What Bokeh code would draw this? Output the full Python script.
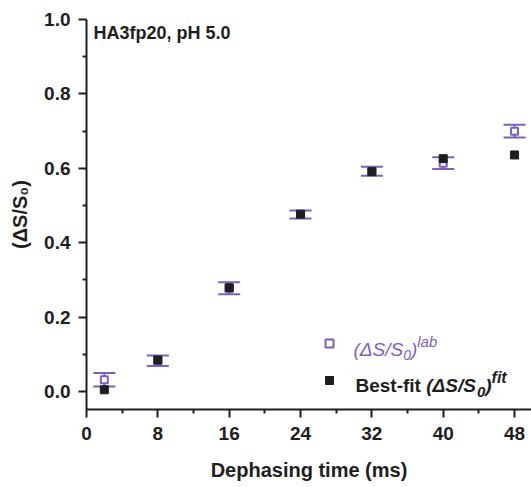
import math
from bokeh.plotting import figure
from bokeh.models import (ColumnDataSource, Whisker, TeeHead, FixedTicker, Label,
                          Legend, LegendItem, CustomJSTickFormatter)
from bokeh.embed import file_html
from bokeh.resources import INLINE

# ---- data ----
times = [2, 8, 16, 24, 32, 40, 48]
lab_vals = [0.032, 0.083, 0.278, 0.476, 0.592, 0.614, 0.700]
lab_errs = [0.018, 0.014, 0.016, 0.011, 0.012, 0.016, 0.017]
fit_vals = [0.005, 0.085, 0.279, 0.477, 0.591, 0.626, 0.636]

x_major = [0, 8, 16, 24, 32, 40, 48]
x_minor = [4, 12, 20, 28, 36, 44]
y_major = [0.0, 0.2, 0.4, 0.6, 0.8, 1.0]
y_minor = [0.1, 0.3, 0.5, 0.7, 0.9]

title_text = "HA3fp20, pH 5.0"
x_title = "Dephasing time (ms)"
y_title = "(ΔS/S\u2080)"

PURPLE = "#7d5fc1"
INK = "#1e1e1e"
FONT = "Liberation Sans"

src = ColumnDataSource(dict(
    t=times, lab=lab_vals, fit=fit_vals,
    upper=[v + e for v, e in zip(lab_vals, lab_errs)],
    lower=[v - e for v, e in zip(lab_vals, lab_errs)],
))

p = figure(width=531, height=487, output_backend="svg", toolbar_location=None,
           x_range=(0, 49.9), y_range=(-0.048, 1.0),
           min_border_left=86, min_border_right=0, min_border_top=19, min_border_bottom=78)
p.outline_line_color = None
p.xgrid.visible = False
p.ygrid.visible = False
p.background_fill_color = "white"

for ax in (p.xaxis[0], p.yaxis[0]):
    ax.axis_line_width = 2
    ax.axis_line_color = INK
    ax.major_tick_line_width = 2
    ax.minor_tick_line_width = 2
    ax.major_tick_line_color = INK
    ax.minor_tick_line_color = INK
    ax.major_tick_out = 8
    ax.major_tick_in = 0
    ax.minor_tick_out = 4
    ax.minor_tick_in = 0
    ax.major_label_text_font = FONT
    ax.major_label_text_font_style = "bold"
    ax.major_label_text_font_size = "19px"
    ax.major_label_text_color = INK
    ax.axis_label_text_font = FONT
    ax.axis_label_text_font_style = "bold"
    ax.axis_label_text_font_size = "20px"
    ax.axis_label_text_color = INK

p.xaxis.major_label_standoff = 9
p.yaxis.major_label_standoff = 8
p.xaxis.ticker = FixedTicker(ticks=x_major, minor_ticks=x_minor)
p.yaxis.ticker = FixedTicker(ticks=y_major, minor_ticks=y_minor)
p.yaxis.formatter = CustomJSTickFormatter(code="return tick.toFixed(1);")
p.xaxis.axis_label = x_title
p.xaxis.axis_label_standoff = 16
p.yaxis.axis_label = y_title
p.yaxis.axis_label_standoff = 10

# error bars
wh = Whisker(base="t", upper="upper", lower="lower", source=src,
             line_color=PURPLE, line_width=2,
             upper_head=TeeHead(size=22, line_color=PURPLE, line_width=2),
             lower_head=TeeHead(size=22, line_color=PURPLE, line_width=2))
p.add_layout(wh)

r_lab = p.scatter("t", "lab", source=src, marker="square", size=7,
                  fill_color="white", line_color=PURPLE, line_width=2)
r_fit = p.scatter("t", "fit", source=src, marker="square", size=8,
                  fill_color=INK, line_color=INK, line_width=1)

legend = Legend(items=[LegendItem(label=" ", renderers=[r_lab]),
                       LegendItem(label=" ", renderers=[r_fit])],
                location=(233, 19), glyph_height=20, glyph_width=20, spacing=17,
                padding=0, margin=0, border_line_color=None, background_fill_alpha=0,
                label_standoff=0, label_text_font_size="1px", label_height=20, label_width=0)
p.add_layout(legend)

# font metrics (per 1000 em) for placing composed rich text pieces
REG = {'(': 333, ')': 333, 'Δ': 668, 'S': 667, '/': 278, '0': 556, 'l': 222, 'a': 556,
       'b': 556}
BOLD = {'B': 722, 'e': 556, 's': 556, 't': 333, '-': 333, 'f': 333, 'i': 278, ' ': 278,
        '(': 333, ')': 333, 'Δ': 722, 'S': 667, '/': 278, '0': 556}


def width(text, size, bold):
    table = BOLD if bold else REG
    return sum(table.get(c, 556) for c in text) * size / 1000.0


def rich(parts, x0, y0, color):
    """parts: list of (text, size, style, dy), laid out left to right."""
    pos = 0.0
    for text, size, style, dy in parts:
        bold = "bold" in style
        p.add_layout(Label(x=x0 + pos, y=y0 + dy, x_units="screen", y_units="screen",
                           text=text, text_font=FONT, text_font_style=style,
                           text_font_size=f"{size}px", text_color=color,
                           text_align="left", text_baseline="alphabetic"))
        pos += width(text, size, bold)


# panel annotation
p.add_layout(Label(x=7, y=377, x_units="screen", y_units="screen", text=title_text,
                   text_font=FONT, text_font_style="bold", text_font_size="18px",
                   text_color=INK, text_baseline="middle"))

# legend texts
rich([("(ΔS/S", 19, "italic", 0), ("0", 14, "italic", -5), (")", 19, "italic", 0),
      ("lab", 15, "italic", 8)], 267, 60, PURPLE)
rich([("Best-fit ", 19, "bold", 0), ("(ΔS/S", 19, "bold italic", 0),
      ("0", 15, "bold italic", -6), (")", 19, "bold italic", 0),
      ("fit", 16, "bold italic", 8)], 269, 24, INK)

open("out.html", "w").write(file_html(p, INLINE))
